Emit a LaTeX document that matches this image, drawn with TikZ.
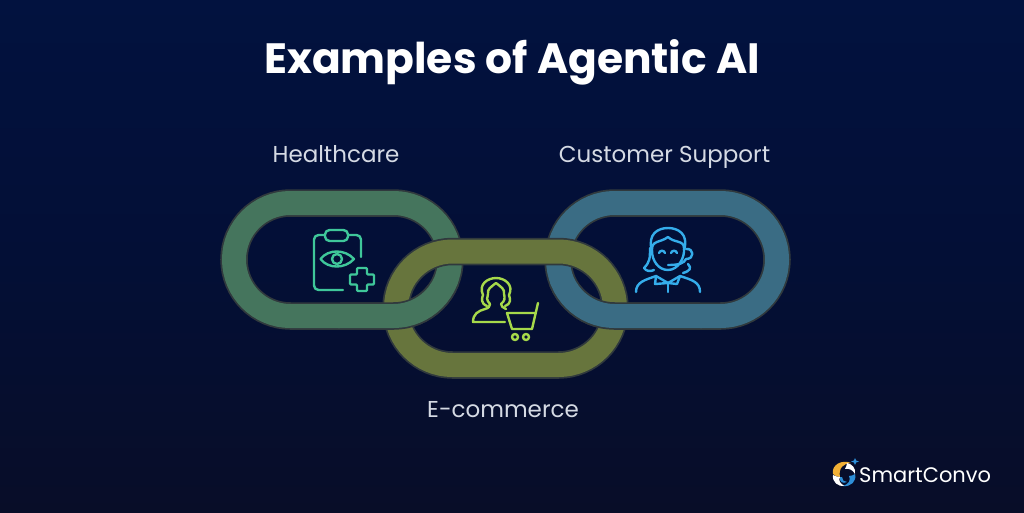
\documentclass[tikz,border=0pt]{standalone}
\usepackage{fontspec}
\setmainfont{Poppins}
\definecolor{bgtop}{HTML}{02123F}
\definecolor{bgmid}{HTML}{030F36}
\definecolor{bgbot}{HTML}{080D28}
\definecolor{ringedge}{HTML}{30393D}
\definecolor{ringgreen}{HTML}{45755D}
\definecolor{ringolive}{HTML}{67753D}
\definecolor{ringblue}{HTML}{3A6C84}
\definecolor{icongreen}{HTML}{3FC79A}
\definecolor{iconlime}{HTML}{A6D94A}
\definecolor{iconblue}{HTML}{35ADEB}
\definecolor{labeltext}{HTML}{D5DAE4}
\definecolor{logoyellow}{HTML}{F2B035}
\definecolor{logoblue}{HTML}{2E8FD8}
\tikzset{
  x=1pt,y=-1pt,
  titletext/.style={text=white,font=\fontsize{42.4}{46}\selectfont\bfseries,inner sep=0pt,anchor=base},
  labeltxt/.style={text=labeltext,font=\fontsize{23}{26}\selectfont,inner sep=0pt,anchor=base},
  icon/.style={line width=2.4pt,line cap=round,line join=round},
}
\newcommand{\ringedgeonly}[4]{%
  \draw[ringedge,line width=27.5pt,rounded corners=56.5pt] (#1,#2) rectangle (#3,#4);
}
\newcommand{\ringfillonly}[5]{%
  \draw[#5,line width=24pt,rounded corners=56.5pt] (#1,#2) rectangle (#3,#4);
}
\newcommand{\chainring}[5]{\ringedgeonly{#1}{#2}{#3}{#4}\ringfillonly{#1}{#2}{#3}{#4}{#5}}
\begin{document}
\begin{tikzpicture}
\useasboundingbox (0,0) rectangle (1024,512);
\shade[top color=bgtop,bottom color=bgbot,middle color=bgmid] (0,0) rectangle (1024,512);

\node[titletext] (title) at (512,73) {Examples of Agentic AI};
\node[labeltxt] (health) at (336,162) {Healthcare};
\node[labeltxt] (support) at (664.5,162) {Customer Support};
\node[labeltxt] (ecom) at (503,417) {E-commerce};

% chain
\chainring{234}{203}{450}{316}{ringgreen}
\chainring{558}{203}{777}{316}{ringblue}
\chainring{396}{251.5}{615}{365}{ringolive}
\begin{scope}
  \clip (340,285) rectangle (700,345);
  \ringedgeonly{234}{203}{450}{316}
  \ringedgeonly{558}{203}{777}{316}
\end{scope}
\begin{scope}
  \clip (338,283) rectangle (702,345);
  \ringfillonly{234}{203}{450}{316}{ringgreen}
  \ringfillonly{558}{203}{777}{316}{ringblue}
\end{scope}

% healthcare icon
\begin{scope}[icongreen,icon]
  \draw[rounded corners=4.5pt] (325,235) -- (314,235) -- (314,290) -- (343,290);
  \draw[rounded corners=4.5pt] (348,235) -- (361,235) -- (361,257);
  \draw[rounded corners=4.5pt] (325,230) rectangle (348,241);
  \draw (320.5,259) .. controls (328,249) and (345,249) .. (354,259) .. controls (345,269) and (328,269) .. (320.5,259) -- cycle;
  \draw (337,259) circle[radius=5];
  \draw[rounded corners=1pt] (357,268) -- (367,268) -- (367,274.5) -- (374,274.5) -- (374,284.5) -- (367,284.5) -- (367,291) -- (357,291) -- (357,284.5) -- (350,284.5) -- (350,274.5) -- (357,274.5) -- cycle;
\end{scope}

% e-commerce icon
\begin{scope}[iconlime,icon]
  \draw (487,306) .. controls (480,303) and (482,298) .. (483,295) .. controls (478,284) and (488,278) .. (496,278) .. controls (505,278) and (514,285) .. (509,295) .. controls (510,299) and (512,303) .. (505,306);
  \draw (490,304) .. controls (486,300) and (487,297) .. (488,294) .. controls (487,289) and (491,287) .. (496,283) .. controls (501,287) and (505,289) .. (504,294) .. controls (505,298) and (505,301) .. (501,304);
  \draw (490,304) .. controls (490,306) and (489,308) .. (485,309) .. controls (478,311) and (473,314) .. (473,322) -- (505,322);
  \draw (501,304) .. controls (501,306) and (503,308) .. (506,309);
  \draw (538,303) -- (532,329) -- (512,329) -- (507,313) -- (534.5,313);
  \draw (515,337) circle[radius=3];
  \draw (526,337) circle[radius=3];
\end{scope}

% customer support icon
\begin{scope}[iconblue,icon]
  \draw (652,251) .. controls (647,234) and (658,228) .. (668,228) .. controls (678,228) and (689,234) .. (684,250);
  \draw (652,251) .. controls (651,240) and (660,243) .. (668,237) .. controls (674,243) and (684,240) .. (684,248) .. controls (685,258) and (678,270) .. (668,270) .. controls (658,270) and (652,260) .. (652,251) -- cycle;
  \draw (650,248) .. controls (650,258) and (650,262) .. (644,268) .. controls (646,271) and (650,272) .. (654,270);
  \draw (686,249) .. controls (694,248) and (695,259) .. (686,259);
  \draw (686,259) .. controls (684,263) and (680,265) .. (668,265);
  \draw (659,253) .. controls (660,250) and (664,250) .. (665,253);
  \draw (671,253) .. controls (672,250) and (676,250) .. (677,253);
  \draw (688,264) .. controls (692,268) and (690,271) .. (683,273);
  \draw (636,292) .. controls (636,282) and (645,280) .. (656,276) -- (668,283) -- (680,276) .. controls (692,280) and (700,282) .. (700,292);
  \draw (656,276) -- (655,284) -- (668,283) -- (677,284) -- (680,276);
  \draw (668,283) -- (668,292);
\end{scope}

% logo mark
\begin{scope}
  \fill[logoyellow] (833,474) .. controls (831,465) and (842,459) .. (851,463) .. controls (844,463) and (838,468) .. (840,477) .. controls (837,477) and (835,476) .. (833,474) -- cycle;
  \fill[white] (833,475) .. controls (832,482) and (838,487) .. (845,486) .. controls (840,484) and (838,480) .. (840,477) .. controls (837,477) and (835,476) .. (833,475) -- cycle;
  \fill[white] (847,463) .. controls (852,464) and (856,468) .. (855,474) .. controls (853,470) and (849,468) .. (845,469) .. controls (846,467) and (847,465) .. (847,463) -- cycle;
  \fill[logoblue] (855,474) .. controls (857,481) and (851,487) .. (843,486) .. controls (849,484) and (851,480) .. (849,476) .. controls (852,476) and (853,475) .. (855,474) -- cycle;
  \fill[logoblue] (840,477) .. controls (839,482) and (843,484) .. (847,482) .. controls (844,482) and (842,480) .. (842,477) -- cycle;
  \fill[logoblue] (855,458) .. controls (855.5,460.5) and (856,461) .. (859,461.5) .. controls (856,462) and (855.5,462.5) .. (855,465) .. controls (854.5,462.5) and (854,462) .. (851,461.5) .. controls (854,461) and (854.5,460.5) .. (855,458) -- cycle;
\end{scope}
\node[text=white,font=\fontsize{21}{24}\selectfont,inner sep=0pt,anchor=west] (brand) at (859,475) {SmartConvo};
\end{tikzpicture}
\end{document}
